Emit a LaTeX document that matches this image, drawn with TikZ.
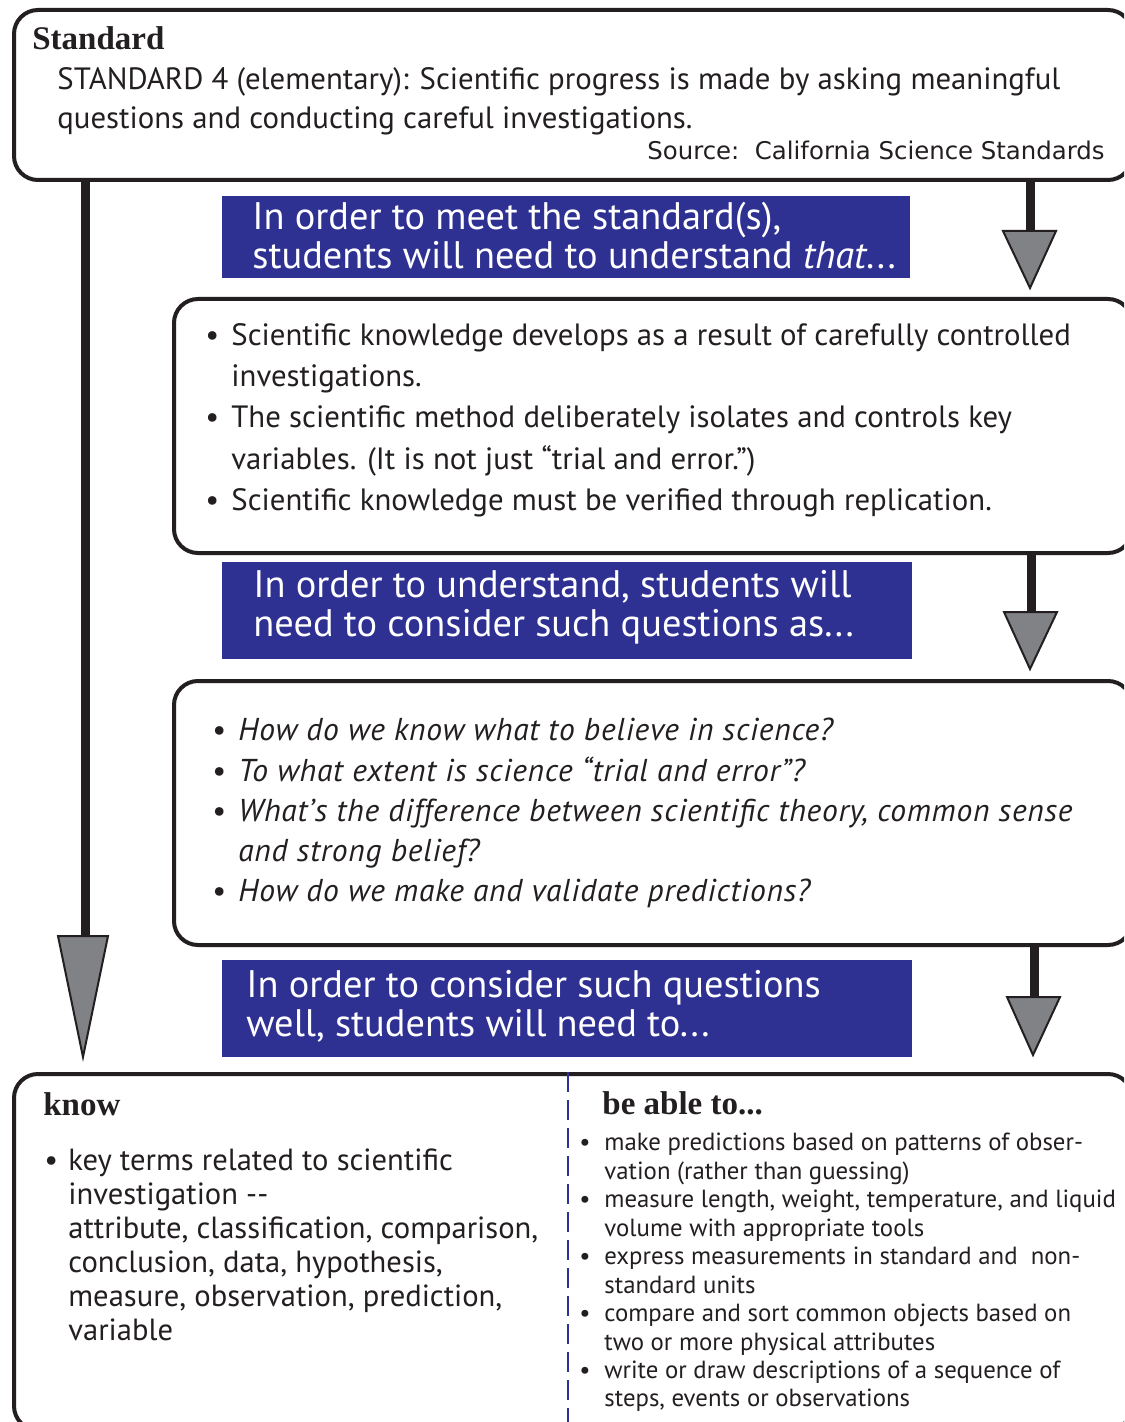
\documentclass[tikz,border=0pt]{standalone}
\usepackage{fontspec}
\setmainfont{PT Sans}
\newfontfamily\headfont{Liberation Serif}
\newfontfamily\srcfont{DejaVu Sans}
\definecolor{navy}{HTML}{2E3192}
\definecolor{ink}{HTML}{231F20}
\definecolor{headgray}{HTML}{808285}

\tikzset{
  box/.style={draw=ink, line width=2pt, rounded corners=12pt, fill=white, inner sep=0pt, anchor=north west},
  banner/.style={fill=navy, draw=none, inner sep=0pt, anchor=north west},
  t/.style={anchor=base west, inner sep=0pt, text=ink},
  tw/.style={anchor=base west, inner sep=0pt, text=white, font=\fontsize{19.2}{21}\selectfont},
  bodytxt/.style={t, font=\fontsize{15.4}{18}\selectfont},
  itxt/.style={t, font=\fontsize{15.8}{18}\selectfont\itshape\addfontfeature{LetterSpace=2.3}},
  lefttxt/.style={t, font=\fontsize{15.3}{17}\selectfont},
  righttxt/.style={t, font=\fontsize{12.4}{14}\selectfont},
  headtxt/.style={t, font=\headfont\bfseries\fontsize{16.5}{18}\selectfont},
  shaft/.style={draw=ink, line width=4.5pt},
  arrowhead/.style={fill=headgray, draw=ink, line width=1pt, line join=miter},
  divider/.style={draw=navy, line width=1pt, dash pattern=on 10pt off 4pt}
}

\begin{document}
\begin{tikzpicture}[x=0.5pt,y=-0.5pt]
\useasboundingbox (0,0) rectangle (1124,1422);
\clip (0,0) rectangle (1124,1422);
\fill[white] (0,0) rectangle (1124,1422);

% ---- boxes ----
\node[box, minimum width=559pt, minimum height=85pt] (std) at (12,8) {};
\node[box, minimum width=479pt, minimum height=127pt] (under) at (172,297) {};
\node[box, minimum width=479pt, minimum height=132pt] (quest) at (172,679) {};
\node[box, minimum width=559pt, minimum height=178pt] (bottom) at (12,1072) {};

% ---- banners ----
\node[banner, minimum width=344pt, minimum height=41pt] (b1) at (222,196) {};
\node[banner, minimum width=345pt, minimum height=48.5pt] (b2) at (222,562) {};
\node[banner, minimum width=345pt, minimum height=48.5pt] (b3) at (222,960) {};

% ---- arrows ----
\coordinate (h0) at (85,936);
\draw[shaft] (h0 |- std.south) -- (h0);
\filldraw[arrowhead] (58,936) -- (108,936) -- (83,1057) -- cycle;

\coordinate (h1) at (1030,231);
\draw[shaft] (h1 |- std.south) -- (h1);
\filldraw[arrowhead] (1003,231) -- (1056,231) -- (1030,288) -- cycle;

\coordinate (h2) at (1031,612);
\draw[shaft] (h2 |- under.south) -- (h2);
\filldraw[arrowhead] (1004,612) -- (1057,612) -- (1030,669) -- cycle;

\coordinate (h3) at (1034,997);
\draw[shaft] (h3 |- quest.south) -- (h3);
\filldraw[arrowhead] (1007,997) -- (1060,997) -- (1033,1055) -- cycle;

% ---- standard box ----
\node[headtxt] (sh) at (32,50) {Standard};
\node[bodytxt] (s1) at (57,90) {STANDARD 4 (elementary): Scientific progress is made by asking meaningful};
\node[bodytxt] (s2) at (57,129) {questions and conducting careful investigations.};
\node[t, anchor=base east, font=\srcfont\fontsize{12.2}{14}\selectfont] (src) at (1105,160) {Source:\ \ California Science Standards};

% ---- banner texts ----
\node[tw] (b1a) at (252,230) {In order to meet the standard(s),};
\node[tw] (b1b) at (252,269) {students will need to understand \textit{that}...};
\node[tw] (b2a) at (253,597) {In order to understand, students will};
\node[tw] (b2b) at (253,636) {need to consider such questions as...};
\node[tw] (b3a) at (246,997) {In order to consider such questions};
\node[tw] (b3b) at (246,1036) {well, students will need to...};

% ---- understandings ----
\foreach \y in {346,428,510} \node[bodytxt] at (205,\y) {•};
\node[bodytxt] (u1) at (231,346) {Scientific knowledge develops as a result of carefully controlled};
\node[bodytxt] (u2) at (231,387) {investigations.};
\node[bodytxt] (u3) at (231,428) {The scientific method deliberately isolates and controls key};
\node[bodytxt] (u4) at (231,469) {variables. (It is not just “trial and error.”)};
\node[bodytxt] (u5) at (231,510) {Scientific knowledge must be verified through replication.};

% ---- essential questions ----
\foreach \y in {740,781,821,901} \node[bodytxt] at (212,\y) {•};
\node[itxt] (q1) at (238,740) {How do we know what to believe in science?};
\node[itxt] (q2) at (238,781) {To what extent is science “trial and error”?};
\node[itxt] (q3) at (238,821) {What’s the difference between scientific theory, common sense};
\node[itxt] (q4) at (238,861) {and strong belief?};
\node[itxt] (q5) at (238,901) {How do we make and validate predictions?};

% ---- know / be able to ----
\draw[divider] (568,1072) -- (568,1422);

\node[headtxt] (kh) at (43,1115) {know};
\node[lefttxt] at (44,1170) {•};
\node[lefttxt] (k1) at (68,1170) {key terms related to scientific};
\node[lefttxt] (k2) at (68,1204) {investigation -{}-};
\node[lefttxt] (k3) at (68,1238) {attribute, classification, comparison,};
\node[lefttxt] (k4) at (68,1272) {conclusion, data, hypothesis,};
\node[lefttxt] (k5) at (68,1306) {measure, observation, prediction,};
\node[lefttxt] (k6) at (68,1340) {variable};

\node[headtxt] (ah) at (602,1114) {be able to...};
\foreach \y in {1150,1207,1264,1321,1378} \node[righttxt] at (579,\y) {•};
\node[righttxt] (a1) at (604,1150) {make predictions based on patterns of obser-};
\node[righttxt] (a2) at (604,1179) {vation (rather than guessing)};
\node[righttxt] (a3) at (604,1207) {measure length, weight, temperature, and liquid};
\node[righttxt] (a4) at (604,1236) {volume with appropriate tools};
\node[righttxt] (a5) at (604,1264) {express measurements in standard and\ \ non-};
\node[righttxt] (a6) at (604,1293) {standard units};
\node[righttxt] (a7) at (604,1321) {compare and sort common objects based on};
\node[righttxt] (a8) at (604,1350) {two or more physical attributes};
\node[righttxt] (a9) at (604,1378) {write or draw descriptions of a sequence of};
\node[righttxt] (a10) at (604,1406) {steps, events or observations};
\end{tikzpicture}
\end{document}
